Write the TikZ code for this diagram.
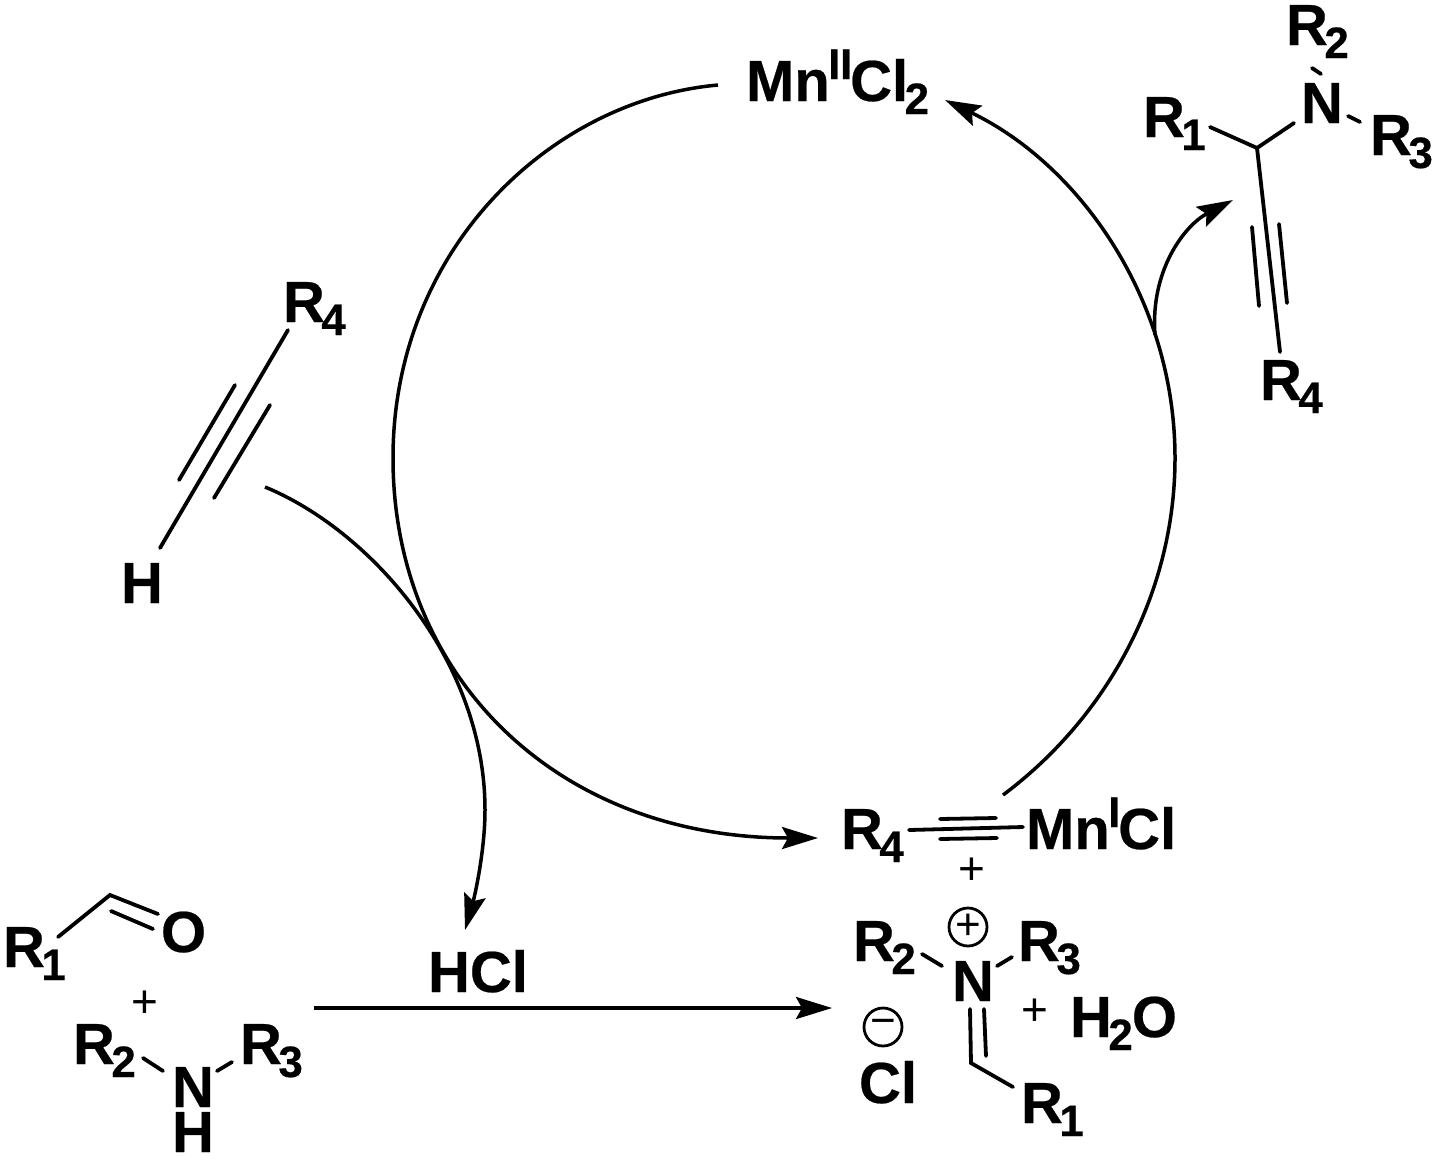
\documentclass[tikz,border=0pt]{standalone}
\usepackage{fontspec}
\setmainfont[BoldFeatures={FakeBold=0.4}]{Liberation Sans}
\usetikzlibrary{arrows.meta}
\newcommand{\sbs}[1]{\kern-3.5pt\raisebox{-13pt}{\fontsize{44}{44}\selectfont #1}}
\newcommand{\sps}[1]{\kern-1.5pt\raisebox{22pt}{\fontsize{43}{43}\selectfont #1}\kern-2pt}
\tikzset{
  chem/.style={inner sep=0pt,outer sep=0pt,anchor=base west,xshift=-2pt,font=\fontsize{58}{58}\selectfont\bfseries},
  bond/.style={line width=3.8pt,line cap=round,black},
  rxn/.style={line width=3.5pt,black,-{Stealth[length=36pt,width=22pt,inset=6pt]}},
  plain/.style={inner sep=0pt,outer sep=0pt,font=\fontsize{46}{46}\selectfont},
  charge/.style={circle,draw,line width=2.8pt,minimum size=38pt,inner sep=0pt,font=\fontsize{44}{44}\selectfont}
}
\begin{document}
\begin{tikzpicture}[x=1pt,y=-1pt]
\useasboundingbox (0,0) rectangle (1435,1160);
% labels
\node[chem] (mn2) at (748,101) {Mn\sps{II}Cl\sbs{2}};
\node[chem] (tr1) at (1145,137) {R\sbs{1}};
\node[chem] (tr2) at (1288,45) {R\sbs{2}};
\node[chem] (trn) at (1303,123) {N};
\node[chem] (tr3) at (1372,155) {R\sbs{3}};
\node[chem] (tr4) at (1262,400) {R\sbs{4}};
\node[chem] (lr4) at (285,322) {R\sbs{4}};
\node[chem] (lh) at (123,603) {H};
\node[chem] (hcl) at (430,992) {HCl};
\node[chem] (blr1) at (5,967) {R\sbs{1}};
\node[chem] (blo) at (163,952) {O};
\node[plain] (blp) at (145,1004) {+};
\node[chem] (blr2) at (75,1064) {R\sbs{2}};
\node[chem] (blr3) at (242,1064) {R\sbs{3}};
\node[chem] (bln) at (174,1107) {N};
\node[chem] (blh) at (174,1152) {H};
\node[chem] (br4) at (843,849) {R\sbs{4}};
\node[chem] (mn1) at (1028,849) {Mn\sps{I}Cl};
\node[plain] (bp1) at (972,871) {+};
\node[charge] (cp) at (968,927) {+};
\node[chem] (br2) at (855,961) {R\sbs{2}};
\node[chem] (br3) at (1020,961) {R\sbs{3}};
\node[chem] (brn) at (954,1001) {N};
\node[chem] (br1) at (1023,1123) {R\sbs{1}};
\node[plain] (bp2) at (1035,1012) {+};
\node[chem] (wat) at (1072,1037) {H\sbs{2}\kern-1pt O};
\node[charge] (cm) at (883,1027) {−};
\node[chem] (cl) at (861,1103) {Cl};
% top-right product
\coordinate (c1) at (1257,148);
\draw[bond] (1210,127) -- (c1) -- (1294,123);
\draw[bond] (c1) -- (1280,352);
\draw[bond] (1252,227) -- (1259,306);
\draw[bond] (1279,224) -- (1287,303);
\draw[bond] (1312,68) -- (1321,74);
\draw[bond] (1348,116) -- (1360,122);
% left alkyne
\draw[bond] (288,330) -- (160,548);
\draw[bond] (235,385) -- (179,480);
\draw[bond] (270,405) -- (214,498);
% aldehyde
\coordinate (c2) at (110,895);
\draw[bond] (58,937) -- (c2) -- (158,914);
\draw[bond] (111,911) -- (153,929);
% amine
\draw[bond] (143,1058) -- (163,1071);
\draw[bond] (217,1071) -- (232,1062);
% Mn alkyne
\draw[bond] (909,830) -- (1023,827);
\draw[bond] (940,819) -- (996,818);
\draw[bond] (940,839) -- (997,838);
% iminium
\coordinate (c3) at (971,1063);
\draw[bond] (922,954) -- (942,966);
\draw[bond] (997,966) -- (1012,957);
\draw[bond] (970,1009) -- (c3) -- (1013,1087);
\draw[bond] (984,1009) -- (986,1056);
% cycle arcs
\coordinate (a0) at (718,85);
\coordinate (a1) at (393,458);
\coordinate (a2) at (818,838);
\coordinate (b0) at (1003,795);
\coordinate (b1) at (1175,458);
\coordinate (b2) at (945,100);
\draw[rxn] (a0) .. controls (550,100) and (393,250) .. (a1)
  .. controls (393,675) and (555,838) .. (a2);
\draw[rxn] (b0) .. controls (1110,715) and (1175,590) .. (b1)
  .. controls (1175,300) and (1080,165) .. (b2);
% side arrows
\coordinate (d0) at (1155,335);
\coordinate (d1) at (1233,200);
\draw[rxn] (d0) .. controls (1150,270) and (1185,225) .. (d1);
\coordinate (e0) at (265,487);
\coordinate (e1) at (485,810);
\coordinate (e2) at (465,930);
\draw[rxn] (e0) .. controls (370,530) and (485,660) .. (e1)
  .. controls (485,850) and (475,895) .. (e2);
\coordinate (f0) at (314,1008);
\coordinate (f1) at (832,1008);
\draw[rxn] (f0) -- (f1);
\end{tikzpicture}
\end{document}
